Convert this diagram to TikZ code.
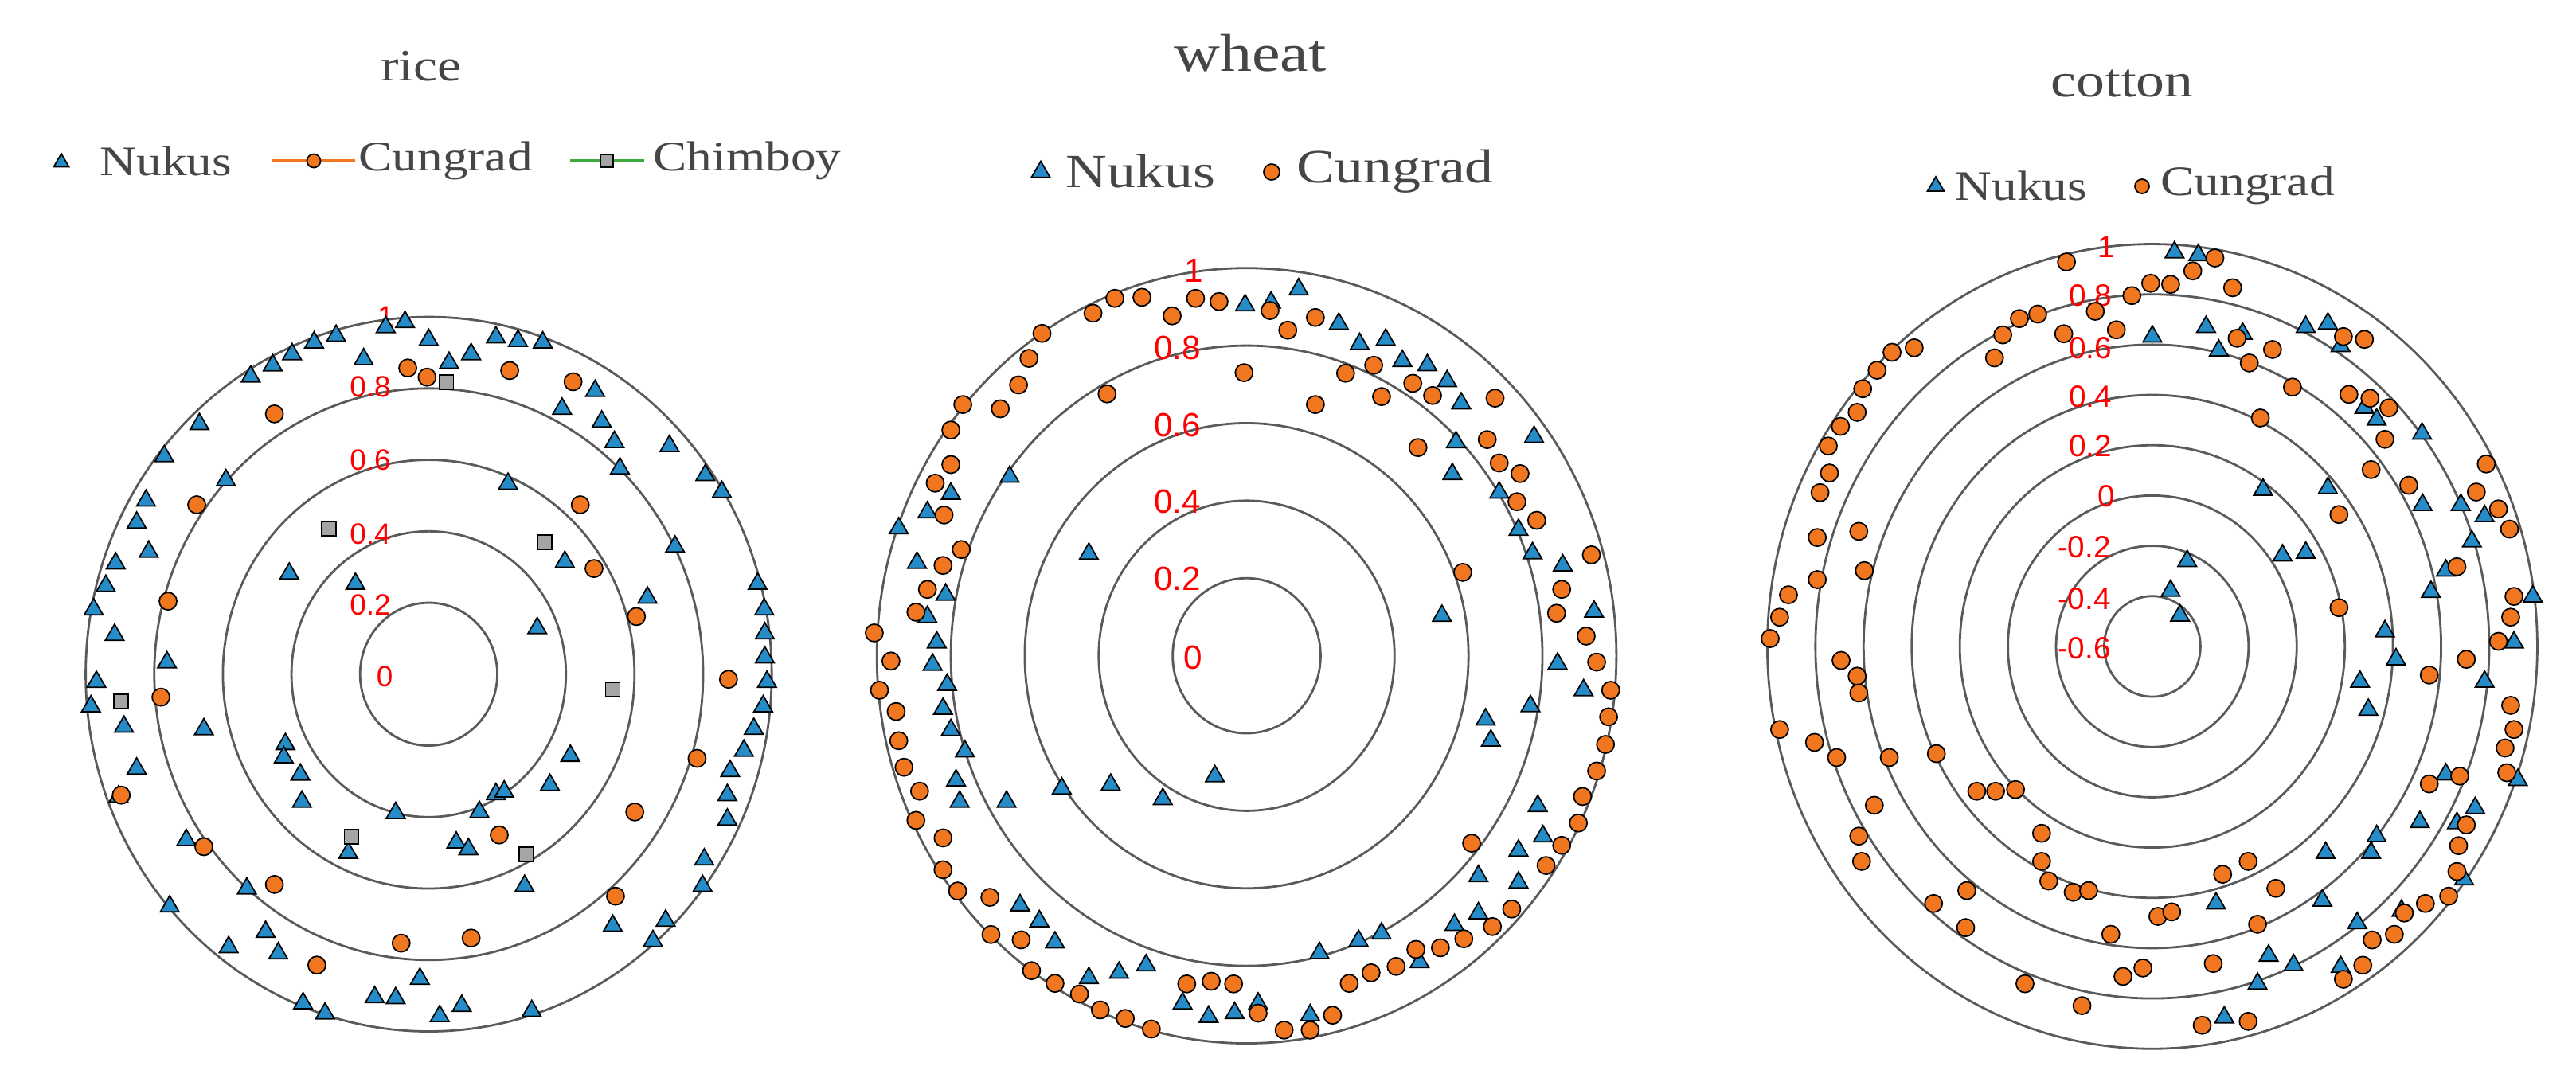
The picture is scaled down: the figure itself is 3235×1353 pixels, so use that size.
\documentclass[tikz,border=0pt]{standalone}
\usepackage{fontspec}
\setmainfont{Liberation Serif}
\newfontfamily\titlefont{Liberation Serif}[FakeStretch=1.2]
\newfontfamily\axisfont{Liberation Sans}
\usetikzlibrary{shapes.geometric}
\definecolor{nukusblue}{RGB}{38,140,200}
\definecolor{cungorange}{RGB}{240,118,32}
\definecolor{chimgray}{RGB}{165,165,165}
\definecolor{chimgreen}{RGB}{60,170,60}
\definecolor{ringgray}{RGB}{90,90,90}
\definecolor{textgray}{RGB}{70,70,70}
\tikzset{
  nt/.style={regular polygon,regular polygon sides=3,draw=black,fill=nukusblue,line width=0.5pt,inner sep=0pt,minimum size=0.27cm},
  nc/.style={circle,draw=black,fill=cungorange,line width=0.5pt,inner sep=0pt,minimum size=0.22cm},
  ns/.style={rectangle,draw=black,fill=chimgray,line width=0.5pt,inner sep=0pt,minimum size=0.18cm},
  ring/.style={ringgray,line width=0.8pt},
  axlab/.style={text=red,font=\axisfont\fontsize{#1}{#1}\selectfont,inner sep=0pt},
  ttl/.style={text=textgray,font=\titlefont\fontsize{#1}{#1}\selectfont,inner sep=0pt},
  leg/.style={text=textgray,font=\titlefont\fontsize{#1}{#1}\selectfont,inner sep=0pt,anchor=west}
}
\begin{document}
\begin{tikzpicture}[x=0.01cm,y=-0.01cm]
\useasboundingbox (0,0) rectangle (3235,1353);

% Titles
\node[ttl=16pt] (trice) at (529,83) {rice};
\node[ttl=19pt] (twheat) at (1570,67) {wheat};
\node[ttl=17pt] (tcotton) at (2665,105) {cotton};

% Legends
\node[nt,minimum size=0.22cm] (lr1) at (77,204) {};
\node[leg=15pt] (lr1t) at (125,202) {Nukus};
\coordinate (lr2a) at (342,202); \coordinate (lr2b) at (446,202);
\draw[cungorange,line width=1pt] (lr2a) -- (lr2b);
\node[nc,minimum size=0.17cm] (lr2) at (394,202) {};
\node[leg=15pt] (lr2t) at (450,202) {Cungrad};
\coordinate (lr3a) at (716,202); \coordinate (lr3b) at (809,202);
\draw[chimgreen,line width=1pt] (lr3a) -- (lr3b);
\node[ns,minimum size=0.16cm] (lr3) at (762,202) {};
\node[leg=15pt] (lr3t) at (820,202) {Chimboy};

\node[nt] (lw1) at (1307,216) {};
\node[leg=17pt] (lw1t) at (1338,215) {Nukus};
\node[nc,minimum size=0.2cm] (lw2) at (1597,216) {};
\node[leg=17pt] (lw2t) at (1628,215) {Cungrad};

\node[nt,minimum size=0.24cm] (lc1) at (2431,234) {};
\node[leg=15pt] (lc1t) at (2455,233) {Nukus};
\node[nc,minimum size=0.18cm] (lc2) at (2690,234) {};
\node[leg=15pt] (lc2t) at (2713,233) {Cungrad};

% rice
\begin{scope}[shift={(0,350)},xscale=0.692,yscale=0.641]
  \foreach \k in {1,...,5}
    \draw[ring] (778,775) ellipse ({\k*124.5} and {\k*140});
  \foreach \lab/\lx/\ly in {1/700/75,0.8/672/212,0.6/672/355,0.4/672/500,0.2/672/640,0/698/780}
    \node[axlab=10.5pt] (rl\lab) at (\lx,\ly) {\lab};
  \foreach \x/\y [count=\i] in {455/192,495/170,530/148,570/125,610/112,700/95,735/85,778/120,660/158,815/165,855/148,900/115,940/122,985/125,1080/220,1020/255,1092/280,1115/320,1125/372,1215/328,1280/385,1310/418,1225/525,1175/625,922/402,1025/555,975/685,645/598,525/578,362/285,298/348,410/395,265/435,248/478,270/535,210/558,192/602,170/648,208/698,303/752,175/790,165/838,225/878,370/883,248/960,215/1015,518/912,515/938,545/972,548/1025,718/1047,870/1045,900/1010,915/1005,998/992,1035/935,1375/598,1387/648,1388/695,1388/742,1392/790,1385/838,1368/882,1350/925,1325/965,1320/1012,1320/1060,1278/1138,1275/1190,1208/1258,1185/1298,1112/1268,952/1190,828/1105,850/1118,632/1125,338/1100,448/1195,308/1230,482/1280,505/1322,415/1310,550/1420,590/1440,680/1408,718/1410,762/1372,798/1445,838/1425,965/1435}
    \node[nt] (rt\i) at (\x,\y) {};
  \foreach \x/\y [count=\i] in {740/175,775/193,925/180,1040/202,498/265,357/443,1053/443,1078/568,1155/662,305/632,292/820,1322/785,1265/940,1152/1045,906/1090,1117/1210,855/1292,728/1302,575/1345,498/1187,370/1113,220/1012}
    \node[nc] (rc\i) at (\x,\y) {};
  \foreach \x/\y [count=\i] in {810/203,597/490,988/516,1112/805,220/828,638/1093,955/1128}
    \node[ns] (rs\i) at (\x,\y) {};
\end{scope}

% wheat
\begin{scope}[shift={(1060,300)},xscale=0.654,yscale=0.667]
  \foreach \k in {1,...,5}
    \draw[ring] (773,785) ellipse ({\k*142} and {\k*146});
  \foreach \lab/\lx/\ly in {1/672/60,0.8/640/205,0.6/640/350,0.4/640/495,0.2/640/640,0/670/788}
    \node[axlab=12pt] (wl\lab) at (\lx,\ly) {\lab};
  \foreach \x/\y [count=\i] in {873/95,770/125,820/120,950/160,990/198,1040/190,1072/230,1120/238,1158/268,1185/310,1175/383,1168/443,1325/373,1258/478,1295/548,1322/592,1380/615,1440/702,1370/800,1420/850,1318/880,1232/905,1242/945,1148/710,712/1012,612/1055,512/1028,418/1035,312/1060,470/593,318/448,105/545,205/480,160/515,140/610,195/670,160/712,178/760,170/802,198/840,190/885,205/925,232/965,215/1020,222/1060,1332/1068,1342/1125,1295/1152,1295/1212,1218/1200,1218/1270,1172/1292,1032/1308,988/1322,913/1345,1105/1362,580/1368,528/1382,470/1392,338/1255,375/1285,405/1325,650/1440,700/1465,750/1458,795/1440,895/1462}
    \node[nt] (wt\i) at (\x,\y) {};
  \foreach \x/\y [count=\i] in {478/140,520/112,572/110,630/145,675/112,720/118,818/135,905/148,852/172,768/252,905/312,963/253,1017/238,1032/297,1092/272,1130/295,1250/300,1102/393,1235/378,1258/422,1298/442,1292/495,1330/530,1188/628,1435/595,1378/660,1368/705,1425/748,1445/797,1472/850,1468/900,1462/952,1445/1002,1418/1050,1410/1100,1378/1142,1348/1180,1282/1262,1245/1295,1190/1318,1145/1335,1098/1338,1060/1370,1012/1382,970/1402,938/1462,895/1490,845/1490,795/1458,748/1403,705/1398,658/1403,1205/1138,590/1488,540/1468,492/1452,452/1422,405/1402,360/1378,340/1320,282/1310,280/1240,218/1228,190/1188,190/1128,138/1095,145/1040,115/995,105/945,100/890,68/850,90/795,58/742,138/703,160/660,190/615,225/585,192/520,175/460,205/425,205/360,228/312,300/320,335/275,355/225,380/178,505/292}
    \node[nc] (wc\i) at (\x,\y) {};
\end{scope}

% cotton
\begin{scope}[shift={(2150,250)},xscale=0.6955,yscale=0.705]
  \foreach \k in {1,...,8}
    \draw[ring] (795,797) ellipse ({\k*86.9} and {\k*89.6});
  \foreach \lab/\lx/\ly [count=\i] in {1/712/85,0.8/683/172,0.6/683/265,0.4/683/352,0.2/683/440,0/712/530,-0.2/672/620,-0.4/672/712,-0.6/672/800}
    \node[axlab=11pt] (cl\i) at (\lx,\ly) {\lab};
  \foreach \x/\y [count=\i] in {835/95,878/100,795/245,892/228,915/270,958/240,1072/228,1112/222,1135/262,1178/372,1200/393,1282/418,995/518,1112/515,1283/545,1352/545,1395/565,1372/610,1325/662,1298/700,1482/708,1448/790,1215/770,1235/820,1170/860,1185/910,1395/860,1030/635,1072/630,858/645,828/698,845/742,1325/1025,1455/1035,1378/1085,1278/1110,1345/1112,1200/1135,1190/1165,1108/1165,1358/1212,910/1255,1102/1250,1165/1290,1245/1268,1005/1348,1050/1365,985/1398,1135/1368,925/1458}
    \node[nt] (ct\i) at (\x,\y) {};
  \foreach \x/\y [count=\i] in {640/112,908/105,868/128,940/158,792/150,828/152,758/172,692/200,588/205,555/213,730/233,635/240,525/242,510/283,365/265,325/273,298/305,272/338,262/380,232/405,210/440,212/488,195/523,190/603,265/592,275/662,190/678,138/705,122/745,105/783,233/822,262/850,265/880,122/945,185/968,225/995,320/995,405/988,293/1080,265/1135,270/1180,400/1255,460/1232,458/1298,478/1055,512/1055,548/1052,595/1130,595/1180,608/1215,652/1235,680/1232,565/1398,668/1437,720/1310,742/1385,778/1370,805/1278,830/1270,905/1362,922/1203,968/1180,1018/1228,985/1292,885/1472,968/1465,948/248,970/292,1012/268,1048/335,1140/245,1178/250,990/390,1150/348,1188/355,1222/372,1215/428,1190/482,1258/510,1132/562,1132/728,1398/472,1380/522,1420/552,1440/588,1345/655,1448/708,1442/745,1420/788,1362/820,1295/848,1442/902,1448/945,1432/978,1435/1022,1295/1042,1350/1028,1362/1115,1348/1152,1345/1198,1330/1242,1288/1255,1250/1272,1232/1310,1192/1320,1175/1365,1140/1390}
    \node[nc] (cc\i) at (\x,\y) {};
\end{scope}
\end{tikzpicture}
\end{document}
